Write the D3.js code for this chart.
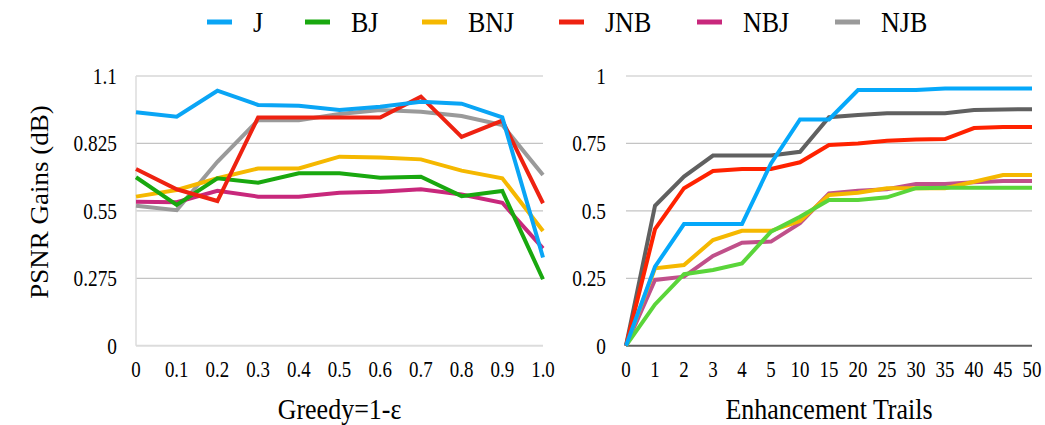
<!DOCTYPE html>
<html>
<head>
<meta charset="utf-8">
<script src="https://cdn.jsdelivr.net/npm/d3@7"></script>
<style>
  body { margin: 0; background: #fff; }
  text { font-family: "Liberation Serif", "Times New Roman", serif; fill: #000; }
</style>
</head>
<body>
<svg width="1045" height="425"></svg>
<script>
// series names and colours (legend uses the left panel's colours)
const seriesNames = ['J', 'BJ', 'BNJ', 'JNB', 'NBJ', 'NJB'];
const leftColors = ['#0aa5f5', '#19a80f', '#f5b800', '#ee2211', '#c8287c', '#9a9a9a'];
const rightColors = ['#05a8fa', '#5ad53a', '#f5b800', '#ff2200', '#c0508a', '#606060'];

// left panel: greedy = 1 - epsilon
const greedyLabels = ['0', '0.1', '0.2', '0.3', '0.4', '0.5', '0.6', '0.7', '0.8', '0.9', '1.0'];
const greedyTicks = [0, 0.275, 0.55, 0.825, 1.1];
const greedyJ   = [0.952, 0.934, 1.040, 0.982, 0.979, 0.961, 0.975, 0.995, 0.987, 0.931, 0.360];
const greedyBJ  = [0.687, 0.574, 0.683, 0.665, 0.703, 0.703, 0.685, 0.689, 0.610, 0.631, 0.271];
const greedyBNJ = [0.608, 0.635, 0.683, 0.723, 0.723, 0.771, 0.768, 0.760, 0.714, 0.683, 0.468];
const greedyJNB = [0.721, 0.638, 0.590, 0.931, 0.931, 0.931, 0.931, 1.016, 0.852, 0.918, 0.581];
const greedyNBJ = [0.587, 0.585, 0.632, 0.608, 0.608, 0.624, 0.628, 0.638, 0.617, 0.583, 0.397];
const greedyNJB = [0.571, 0.553, 0.750, 0.920, 0.920, 0.945, 0.961, 0.954, 0.937, 0.900, 0.696];

// right panel: enhancement trails
const trailLabels = ['0', '1', '2', '3', '4', '5', '10', '15', '20', '25', '30', '35', '40', '45', '50'];
const trailTicks = [0, 0.25, 0.5, 0.75, 1];
const trailJ   = [0, 0.293, 0.451, 0.451, 0.451, 0.676, 0.839, 0.839, 0.948, 0.948, 0.948, 0.954, 0.954, 0.954, 0.954];
const trailBJ  = [0, 0.153, 0.265, 0.281, 0.305, 0.423, 0.478, 0.540, 0.540, 0.550, 0.584, 0.586, 0.586, 0.586, 0.586];
const trailBNJ = [0, 0.287, 0.299, 0.392, 0.426, 0.426, 0.462, 0.559, 0.567, 0.584, 0.584, 0.584, 0.608, 0.633, 0.633];
const trailJNB = [0, 0.432, 0.584, 0.648, 0.655, 0.655, 0.680, 0.744, 0.750, 0.760, 0.765, 0.766, 0.807, 0.811, 0.811];
const trailNBJ = [0, 0.244, 0.256, 0.333, 0.382, 0.386, 0.454, 0.565, 0.575, 0.580, 0.600, 0.600, 0.606, 0.611, 0.611];
const trailNJB = [0, 0.519, 0.627, 0.705, 0.705, 0.705, 0.719, 0.847, 0.855, 0.862, 0.862, 0.862, 0.874, 0.876, 0.877];

const svg = d3.select('svg');
const yTop = 76;
const yBottom = 345.7;

/**
 * draws one panel of the figure
 */
function drawPanel(opt) {
  const x = d3.scalePoint().domain(opt.labels).range([opt.x0, opt.x1]);
  const y = d3.scaleLinear().domain([0, opt.yMax]).range([yBottom, yTop]);
  const g = svg.append('g');

  // gridlines
  g.selectAll('line.grid')
      .data(opt.ticks.filter((t) => t > 0))
      .enter()
      .append('line')
      .attr('x1', opt.x0).attr('x2', opt.x1)
      .attr('y1', (d) => y(d)).attr('y2', (d) => y(d))
      .style('stroke', '#c4c4c4')
      .style('stroke-width', '1.2px');

  if (opt.frame) {
    g.append('line')
        .attr('x1', opt.x0).attr('x2', opt.x0)
        .attr('y1', yTop).attr('y2', yBottom)
        .style('stroke', '#dcdcdc').style('stroke-width', '1.5px');
  }
  g.append('line')
      .attr('x1', opt.x0).attr('x2', opt.x1)
      .attr('y1', yBottom).attr('y2', yBottom)
      .style('stroke', opt.baseColor)
      .style('stroke-width', opt.baseWidth);

  // y tick labels
  g.selectAll('text.ytick')
      .data(opt.ticks)
      .enter()
      .append('text')
      .attr('text-anchor', 'end')
      .attr('transform', (d) => `translate(${opt.yLabelX},${y(d) + 8}) scale(0.92,1.1)`)
      .style('font-size', '21px')
      .text((d) => opt.tickFmt(d));

  // x tick labels
  g.selectAll('text.xtick')
      .data(opt.labels)
      .enter()
      .append('text')
      .attr('text-anchor', 'middle')
      .attr('transform', (d) => `translate(${x(d)},${377}) scale(0.9,1.1)`)
      .style('font-size', '21px')
      .text((d) => d);

  // axis title
  g.append('text')
      .attr('text-anchor', 'middle')
      .attr('transform', `translate(${(opt.x0 + opt.x1) / 2},419) scale(1,1.1)`)
      .style('font-size', '26px')
      .text(opt.title);

  const line = d3.line()
      .x((d, i) => x(opt.labels[i]))
      .y((d) => y(d));

  opt.order.forEach(function(k) {
    g.append('path')
        .datum(opt.series[k])
        .attr('d', line)
        .style('fill', 'none')
        .style('stroke', opt.colors[k])
        .style('stroke-width', '4px')
        .style('stroke-linejoin', 'miter');
  });
}

drawPanel({
  labels: greedyLabels, ticks: greedyTicks, yMax: 1.1,
  x0: 136, x1: 543, yLabelX: 117,
  tickFmt: (d) => d === 0 ? '0' : String(d),
  series: [greedyJ, greedyBJ, greedyBNJ, greedyJNB, greedyNBJ, greedyNJB],
  colors: leftColors, order: [5, 4, 2, 1, 3, 0],
  frame: true, baseColor: '#dcdcdc', baseWidth: '2px',
  title: 'Greedy=1-ε'
});

drawPanel({
  labels: trailLabels, ticks: trailTicks, yMax: 1,
  x0: 626, x1: 1032, yLabelX: 606,
  tickFmt: (d) => String(d),
  series: [trailJ, trailBJ, trailBNJ, trailJNB, trailNBJ, trailNJB],
  colors: rightColors, order: [4, 2, 1, 5, 3, 0],
  frame: false, baseColor: '#5f5f5f', baseWidth: '2px',
  title: 'Enhancement Trails'
});

// y axis title
svg.append('text')
    .attr('text-anchor', 'middle')
    .attr('transform', 'translate(48,202) rotate(-90) scale(1.08,1)')
    .style('font-size', '25px')
    .text('PSNR Gains (dB)');

// legend
const legendX = [207, 305, 422, 559, 697, 835];
const legend = svg.append('g').selectAll('g')
    .data(seriesNames)
    .enter()
    .append('g')
    .attr('transform', (d, i) => `translate(${legendX[i]},22)`);
legend.append('line')
    .attr('x1', 0).attr('x2', 25)
    .style('stroke', (d, i) => leftColors[i])
    .style('stroke-width', '5px');
legend.append('text')
    .attr('transform', 'translate(46,10) scale(1,1.1)')
    .style('font-size', '26px')
    .text((d) => d);
</script>
</body>
</html>
